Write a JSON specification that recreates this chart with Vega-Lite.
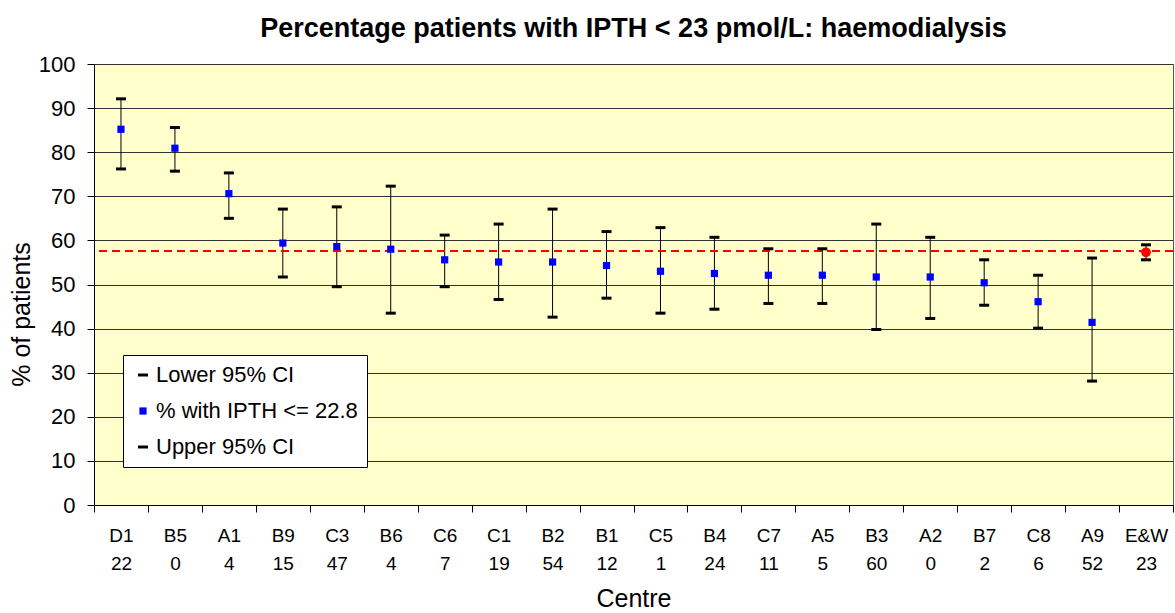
{
  "$schema": "https://vega.github.io/schema/vega-lite/v6.json",
  "autosize": {"type": "none"},
  "width": 1079,
  "height": 441,
  "padding": {"left": 94, "top": 64, "right": 2, "bottom": 108},
  "background": "white",
  "title": {
    "text": "Percentage patients with IPTH < 23 pmol/L: haemodialysis",
    "font": "Liberation Sans",
    "fontSize": 27,
    "fontWeight": "bold",
    "color": "black",
    "anchor": "middle",
    "offset": 10
  },
  "datasets": {
    "centres": [
      {"centre": "D1", "n": 22, "lower": 76.2, "pct": 85.2, "upper": 92.1},
      {"centre": "B5", "n": 0, "lower": 75.7, "pct": 80.9, "upper": 85.6},
      {"centre": "A1", "n": 4, "lower": 65.0, "pct": 70.6, "upper": 75.3},
      {"centre": "B9", "n": 15, "lower": 51.7, "pct": 59.4, "upper": 67.1},
      {"centre": "C3", "n": 47, "lower": 49.5, "pct": 58.6, "upper": 67.6},
      {"centre": "B6", "n": 4, "lower": 43.5, "pct": 58.0, "upper": 72.3},
      {"centre": "C6", "n": 7, "lower": 49.5, "pct": 55.6, "upper": 61.2},
      {"centre": "C1", "n": 19, "lower": 46.6, "pct": 55.1, "upper": 63.7},
      {"centre": "B2", "n": 54, "lower": 42.6, "pct": 55.1, "upper": 67.1},
      {"centre": "B1", "n": 12, "lower": 46.9, "pct": 54.3, "upper": 62.0},
      {"centre": "C5", "n": 1, "lower": 43.5, "pct": 53.0, "upper": 62.9},
      {"centre": "B4", "n": 24, "lower": 44.4, "pct": 52.5, "upper": 60.7},
      {"centre": "C7", "n": 11, "lower": 45.7, "pct": 52.1, "upper": 58.1},
      {"centre": "A5", "n": 5, "lower": 45.7, "pct": 52.1, "upper": 58.1},
      {"centre": "B3", "n": 60, "lower": 39.8, "pct": 51.7, "upper": 63.7},
      {"centre": "A2", "n": 0, "lower": 42.3, "pct": 51.7, "upper": 60.7},
      {"centre": "B7", "n": 2, "lower": 45.3, "pct": 50.4, "upper": 55.6},
      {"centre": "C8", "n": 6, "lower": 40.1, "pct": 46.1, "upper": 52.1},
      {"centre": "A9", "n": 52, "lower": 28.1, "pct": 41.4, "upper": 56.0},
      {"centre": "E&W", "n": 23, "lower": 55.6, "pct": 57.3, "upper": 59.0}
    ],
    "average": [{"pct": 57.6}]
  },
  "data": {"name": "centres"},
  "encoding": {
    "x": {
      "field": "centre",
      "type": "nominal",
      "scale": {"domain": ["D1","B5","A1","B9","C3","B6","C6","C1","B2","B1","C5","B4","C7","A5","B3","A2","B7","C8","A9","E&W"], "paddingInner": 0, "paddingOuter": 0},
      "axis": {
        "title": "Centre",
        "titleFontSize": 25,
        "titleFontWeight": "normal",
        "titlePadding": 13,
        "labelAngle": 0,
        "labelFontSize": 19,
        "labelLineHeight": 28,
        "labelPadding": 14,
        "tickBand": "extent",
        "tickSize": 7,
        "labelExpr": "[datum.value, ['22','0','4','15','47','4','7','19','54','12','1','24','11','5','60','0','2','6','52','23'][indexof(['D1','B5','A1','B9','C3','B6','C6','C1','B2','B1','C5','B4','C7','A5','B3','A2','B7','C8','A9','E&W'], datum.value)]]"
      }
    }
  },
  "layer": [
    {
      "mark": {"type": "rule", "color": "black", "strokeWidth": 1},
      "encoding": {
        "y": {
          "field": "lower",
          "type": "quantitative",
          "scale": {"domain": [0, 100], "nice": false},
          "axis": {
            "title": "% of patients",
            "titleFontSize": 25,
            "titleFontWeight": "normal",
            "titleX": -60,
            "titleY": 250,
            "values": [0,10,20,30,40,50,60,70,80,90,100],
            "labelFontSize": 22,
            "labelPadding": 12,
            "tickSize": 7,
            "grid": true
          }
        },
        "y2": {"field": "upper"}
      }
    },
    {
      "data": {"name": "average"},
      "mark": {"type": "rule", "color": "#FF0000", "strokeWidth": 2, "strokeDash": [8, 5]},
      "encoding": {
        "x": null,
        "y": {"field": "pct", "type": "quantitative"}
      }
    },
    {
      "transform": [{"filter": "datum.centre === 'E&W'"}],
      "mark": {"type": "circle", "color": "#FF0000", "size": 95, "opacity": 1},
      "encoding": {
        "y": {"field": "pct", "type": "quantitative"}
      }
    },
    {
      "transform": [
        {"fold": ["lower", "pct", "upper"], "as": ["series", "value"]},
        {"filter": "!(datum.centre === 'E&W' && datum.series === 'pct')"}
      ],
      "mark": {"type": "point", "filled": true, "size": 100, "strokeWidth": 0, "opacity": 1},
      "encoding": {
        "y": {"field": "value", "type": "quantitative"},
        "shape": {
          "field": "series",
          "type": "nominal",
          "scale": {
            "domain": ["lower", "pct", "upper"],
            "range": ["M-1,-0.3H1V0.3H-1Z", "M-0.72,-0.72H0.72V0.72H-0.72Z", "M-1,-0.3H1V0.3H-1Z"]
          },
          "legend": {
            "orient": "none",
            "legendX": 29,
            "legendY": 291,
            "title": null,
            "fillColor": "white",
            "strokeColor": "black",
            "padding": 9,
            "labelFontSize": 22,
            "labelColor": "black",
            "labelOffset": 2,
            "rowPadding": 14,
            "symbolSize": 100,
            "symbolStrokeWidth": 0,
            "labelLimit": 400,
            "labelExpr": "datum.value === 'lower' ? 'Lower 95% CI' : datum.value === 'pct' ? '% with IPTH <= 22.8' : 'Upper 95% CI'"
          }
        },
        "color": {
          "field": "series",
          "type": "nominal",
          "scale": {"domain": ["lower", "pct", "upper"], "range": ["black", "#0000FF", "black"]},
          "legend": {
            "orient": "none",
            "legendX": 29,
            "legendY": 291,
            "title": null,
            "fillColor": "white",
            "strokeColor": "black",
            "padding": 9,
            "labelFontSize": 22,
            "labelColor": "black",
            "labelOffset": 2,
            "rowPadding": 14,
            "symbolSize": 100,
            "symbolStrokeWidth": 0,
            "labelLimit": 400,
            "labelExpr": "datum.value === 'lower' ? 'Lower 95% CI' : datum.value === 'pct' ? '% with IPTH <= 22.8' : 'Upper 95% CI'"
          }
        }
      }
    }
  ],
  "config": {
    "font": "Liberation Sans",
    "view": {"fill": "#FFFFCC", "stroke": "#555555", "strokeWidth": 1},
    "axis": {
      "labelColor": "black",
      "titleColor": "black",
      "domainColor": "black",
      "tickColor": "black",
      "gridColor": "#333333",
      "gridOpacity": 1,
      "domainWidth": 1,
      "labelFont": "Liberation Sans",
      "titleFont": "Liberation Sans"
    },
    "legend": {"labelFont": "Liberation Sans"}
  }
}
